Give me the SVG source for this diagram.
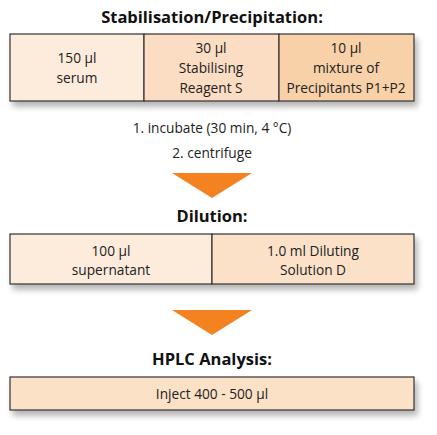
<svg xmlns="http://www.w3.org/2000/svg" width="437" height="435" viewBox="0 0 437 435">
<defs>
<filter id="sh" x="-5%" y="-20%" width="115%" height="160%">
<feGaussianBlur in="SourceAlpha" stdDeviation="3"/>
<feOffset dx="3" dy="5"/>
<feComponentTransfer><feFuncA type="linear" slope="0.3"/></feComponentTransfer>
<feMerge><feMergeNode/><feMergeNode in="SourceGraphic"/></feMerge>
</filter>
<style>
.t{font-family:"Open Sans","Noto Sans",sans-serif;font-size:13.7px;fill:#222;text-anchor:middle}
.h{font-family:"Open Sans","Noto Sans",sans-serif;font-size:16.5px;font-weight:bold;fill:#111;text-anchor:middle}
.b{stroke:#333;stroke-width:1.2}
.arr{fill:#F58220}
</style>
</defs>
<rect width="437" height="435" fill="#fff"/>
<text class="h" x="212" y="23">Stabilisation/Precipitation:</text>
<g id="box1" filter="url(#sh)">
<rect x="10" y="34" width="134" height="67" fill="#FDEBDB" class="b"/>
<rect x="144" y="34" width="135" height="67" fill="#FADDC2" class="b"/>
<rect x="279" y="34" width="135" height="67" fill="#F9D1A8" class="b"/>
</g>
<g id="serum"><text class="t" x="77" y="63">150 µl</text><text class="t" x="77" y="83">serum</text></g>
<g id="reagentS"><text class="t" x="211" y="53">30 µl</text><text class="t" x="211" y="73">Stabilising</text><text class="t" x="211" y="93">Reagent S</text></g>
<g id="precip"><text class="t" x="346" y="53">10 µl</text><text class="t" x="346" y="73">mixture of</text><text class="t" x="346" y="93">Precipitants P1+P2</text></g>
<g id="steps"><text class="t" x="212" y="133">1. incubate (30 min, 4 °C)</text><text class="t" x="212" y="158">2. centrifuge</text></g>
<g id="connectors">
<polygon class="arr" points="172,173 252,173 212,198"/>
<polygon class="arr" points="172,310 252,310 212,335"/>
</g>
<text class="h" x="212" y="222">Dilution:</text>
<g id="box2" filter="url(#sh)">
<rect x="10" y="234" width="202" height="50" fill="#FDEBDB" class="b"/>
<rect x="212" y="234" width="202" height="50" fill="#FBE1C7" class="b"/>
</g>
<g id="supernatant"><text class="t" x="111" y="256">100 µl</text><text class="t" x="111" y="275">supernatant</text></g>
<g id="diluting"><text class="t" x="313" y="256">1.0 ml Diluting</text><text class="t" x="313" y="275">Solution D</text></g>
<text class="h" x="212" y="365">HPLC Analysis:</text>
<g id="hplc" filter="url(#sh)">
<rect x="10" y="377" width="404" height="33" fill="#FBE1C5" class="b"/>
</g>
<text class="t" x="212" y="399">Inject 400 - 500 µl</text>
</svg>
